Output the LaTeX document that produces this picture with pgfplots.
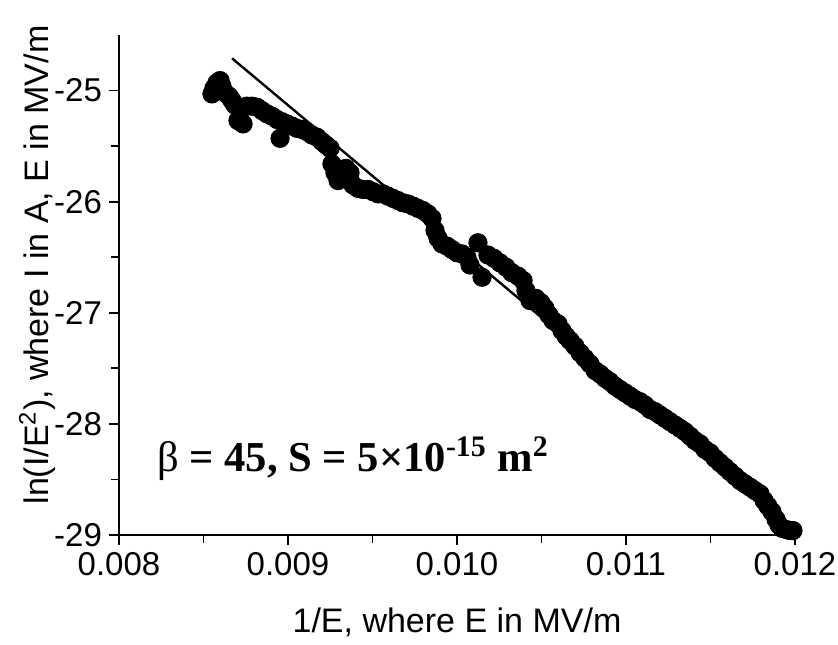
\documentclass[border=0pt]{standalone}
\usepackage{pgfplots}
\pgfplotsset{compat=1.18}
\usepackage{pgfplotstable}
\usepackage{fontspec}
\setmainfont{Liberation Sans}
\newfontfamily\timesfont{Liberation Serif}
\usetikzlibrary{calc}

\pgfplotstableread{
x y
0.008550 -25.03
0.008562 -24.98
0.008580 -24.93
0.008598 -24.91
0.008609 -24.96
0.008627 -25.02
0.008651 -25.05
0.008669 -25.09
0.008686 -25.13
0.008704 -25.27
0.008734 -25.30
0.008728 -25.16
0.008757 -25.14
0.008787 -25.14
0.008817 -25.15
0.008846 -25.18
0.008876 -25.21
0.008905 -25.23
0.008935 -25.26
0.008953 -25.43
0.008964 -25.28
0.008994 -25.30
0.009024 -25.32
0.009053 -25.34
0.009083 -25.35
0.009112 -25.37
0.009142 -25.40
0.009172 -25.42
0.009201 -25.46
0.009225 -25.49
0.009249 -25.52
0.009260 -25.66
0.009278 -25.74
0.009296 -25.81
0.009343 -25.70
0.009367 -25.74
0.009385 -25.85
0.009414 -25.88
0.009444 -25.89
0.009473 -25.89
0.009503 -25.91
0.009533 -25.93
0.009562 -25.93
0.009592 -25.95
0.009621 -25.97
0.009651 -25.99
0.009680 -26.01
0.009710 -26.02
0.009740 -26.04
0.009769 -26.06
0.009799 -26.08
0.009828 -26.11
0.009852 -26.15
0.009870 -26.26
0.009888 -26.33
0.009911 -26.38
0.009941 -26.40
0.009970 -26.43
0.010000 -26.46
0.010030 -26.47
0.010059 -26.50
0.010077 -26.57
0.010124 -26.37
0.010148 -26.68
0.010183 -26.48
0.010219 -26.51
0.010254 -26.55
0.010290 -26.59
0.010325 -26.64
0.010361 -26.67
0.010391 -26.71
0.010408 -26.80
0.010432 -26.89
0.010467 -26.87
0.010497 -26.91
0.010521 -26.96
0.010544 -27.02
0.010568 -27.07
0.010598 -27.10
0.010621 -27.16
0.010645 -27.21
0.010669 -27.25
0.010698 -27.30
0.010728 -27.36
0.010757 -27.41
0.010787 -27.46
0.010817 -27.52
0.010846 -27.55
0.010876 -27.59
0.010905 -27.62
0.010935 -27.66
0.010964 -27.69
0.010994 -27.72
0.011024 -27.75
0.011053 -27.78
0.011083 -27.80
0.011112 -27.83
0.011142 -27.87
0.011172 -27.89
0.011201 -27.92
0.011231 -27.95
0.011260 -27.98
0.011290 -28.01
0.011320 -28.04
0.011349 -28.07
0.011379 -28.11
0.011408 -28.15
0.011438 -28.18
0.011467 -28.23
0.011497 -28.26
0.011527 -28.31
0.011556 -28.35
0.011586 -28.39
0.011615 -28.43
0.011645 -28.47
0.011675 -28.51
0.011704 -28.54
0.011734 -28.57
0.011763 -28.60
0.011793 -28.63
0.011817 -28.69
0.011840 -28.74
0.011864 -28.79
0.011888 -28.86
0.011905 -28.91
0.011923 -28.94
0.011947 -28.95
0.011970 -28.96
0.011988 -28.96
}\datatable

\begin{document}
\begin{tikzpicture}
\begin{axis}[
  scale only axis, width=338pt, height=250pt,
  xmin=0.008, xmax=0.012, ymin=-29, ymax=-24.5,
  axis x line*=bottom, axis y line*=left,
  axis line style={line width=1pt, black},
  xtick={0.008,0.009,0.010,0.011,0.012},
  ytick={-29,-28,-27,-26,-25},
  minor x tick num=1, minor y tick num=1,
  tick align=outside,
  major tick length=5pt, minor tick length=4pt,
  tick style={line width=0.9pt, black},
  scaled x ticks=false,
  xticklabel style={/pgf/number format/.cd, fixed, fixed zerofill, precision=3},
  /pgf/number format/assume math mode=true,
  tick label style={font=\fontsize{16.5}{20}\selectfont},
  xlabel={1/E, where E in MV/m},
  ylabel={ln(I/E\textsuperscript{2}), where I in A, E in MV/m},
  every axis x label/.style={at={(axis description cs:0.5,-0.174)},anchor=center,font=\fontsize{17}{20}\selectfont},
  every axis y label/.style={at={(axis description cs:-0.121,0.54)},anchor=center,rotate=90,font=\fontsize{17}{20}\selectfont},
  clip=false,
]
\coordinate (o) at (rel axis cs:0,0);
\addplot[only marks, mark=*, mark size=4.6pt, black] table[x=x,y=y] {\datatable};
\addplot[black, line width=1.2pt, no marks] coordinates {(0.008669,-24.71) (0.01199,-28.94)};
\node[anchor=base west, inner sep=0pt, font={\fontsize{21.3}{25}\timesfont\bfseries}] at (axis cs:0.008225,-28.43)
  {{\mdseries β} = 45, S = 5×10\textsuperscript{-15} m\textsuperscript{2}};
\end{axis}
\pgfresetboundingbox
\path[use as bounding box] ($(o)+(-59.5pt,-54.5pt)$) rectangle ($(o)+(359.5pt,267.5pt)$);
\end{tikzpicture}
\end{document}
